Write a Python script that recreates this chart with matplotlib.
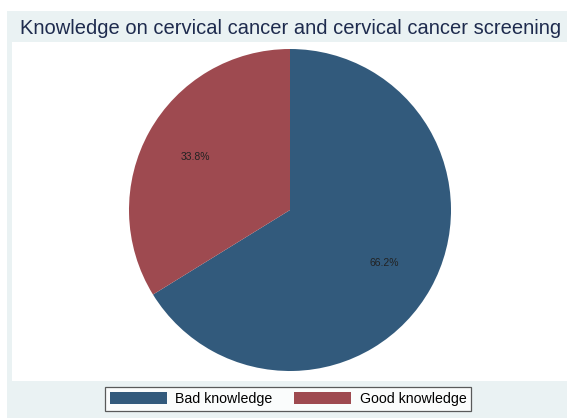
import matplotlib
matplotlib.use("Agg")
import matplotlib.pyplot as plt
from matplotlib.patches import Rectangle, Patch

# data
categories = ["Bad knowledge", "Good knowledge"]
shares = [66.2, 33.8]
colors = ["#325A7C", "#9E4A50"]
title = "Knowledge on cervical cancer and cervical cancer screening"

W, H = 567, 418
fig = plt.figure(figsize=(W / 100, H / 100), dpi=100)
fig.patch.set_facecolor("white")
plt.rcParams["font.family"] = ["Liberation Sans", "DejaVu Sans"]

# stata-like panel background and white plot region
fig.patches.append(Rectangle((7 / W, 0), 1, (H - 11) / H, transform=fig.transFigure,
                             facecolor="#EAF2F3", edgecolor="none", zorder=0))
fig.patches.append(Rectangle((12 / W, (H - 381) / H), 1, (381 - 42) / H, transform=fig.transFigure,
                             facecolor="white", edgecolor="none", zorder=0))

fig.text(20 / W, 1 - 28 / H, title, ha="left", va="center", fontsize=14.5, color="#1E2B4E")

# pie axes: center (290, 210), radius 161
r = 161
ax = fig.add_axes([(290 - r) / W, 1 - (210 + r) / H, 2 * r / W, 2 * r / H])
ax.set_zorder(3)
ax.pie(shares, colors=colors, startangle=90, counterclock=False,
       autopct="%1.1f%%", pctdistance=0.67, radius=1,
       textprops={"fontsize": 7.5, "color": "#222222"})
ax.set_xlim(-1, 1)
ax.set_ylim(-1, 1)
ax.set_aspect("auto")
ax.axis("off")

handles = [Patch(facecolor=c, edgecolor="none") for c in colors]
leg = fig.legend(handles, categories, loc="center left", bbox_to_anchor=(105 / W, 1 - 399 / H),
                 ncol=2, frameon=True, fancybox=False, fontsize=10.2,
                 handlelength=4.0, handleheight=0.9, columnspacing=1.55, handletextpad=0.6,
                 borderpad=0.35, borderaxespad=0)
leg.set_zorder(4)
leg.get_frame().set_edgecolor("#333333")
leg.get_frame().set_linewidth(0.9)
leg.get_frame().set_facecolor("white")

fig.savefig("out.png", dpi=100)
